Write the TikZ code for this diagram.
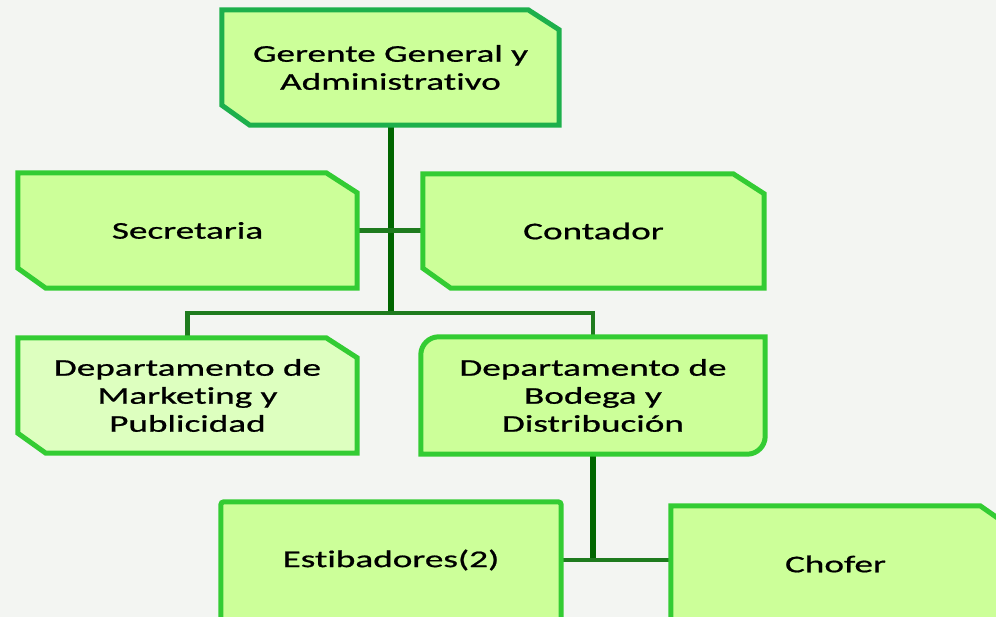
\documentclass[tikz,border=0pt]{standalone}
\usepackage{fontspec}
\setmainfont{Carlito}[FakeStretch=1.55, FakeBold=0.8, Ligatures={NoCommon}]
\usepackage{tikz}

\definecolor{boxfill}{HTML}{CCFF99}
\definecolor{mktfill}{HTML}{DDFFBF}
\definecolor{boxedge}{HTML}{33CC33}
\definecolor{topedge}{HTML}{1DB04C}
\definecolor{trunkgreen}{HTML}{006600}
\definecolor{branchgreen}{HTML}{1E7B1E}
\definecolor{paper}{HTML}{F3F5F2}

\pgfdeclarelayer{bg}
\pgfdeclarelayer{lines}
\pgfdeclarelayer{boxes}
\pgfsetlayers{bg,lines,boxes,main}

\tikzset{
    box/.style={minimum width=339pt, minimum height=115pt, inner sep=0pt,
        align=center, font=\fontsize{24}{28}\selectfont},
    outline/.style={line width=5pt, draw=boxedge, fill=boxfill, line join=miter},
    trunk/.style={line width=6pt, draw=trunkgreen},
    branch/.style={line width=4.5pt, draw=branchgreen},
}

% caja con esquinas cortadas (arriba derecha, abajo izquierda)
\newcommand{\snipbox}[2][]{%
    \begin{pgfonlayer}{boxes}
    \draw[outline, #1] (#2.north west) -- ([xshift=-31pt]#2.north east)
        -- ([yshift=-20pt]#2.north east) -- (#2.south east)
        -- ([xshift=28pt]#2.south west) -- ([yshift=20pt]#2.south west) -- cycle;
    \end{pgfonlayer}}

\begin{document}
\begin{tikzpicture}[x=1pt, y=-1pt]
    \useasboundingbox (0,0) rectangle (996,617);
    \clip (0,0) rectangle (996,617);
    \begin{pgfonlayer}{bg}
        \fill[paper] (0,0) rectangle (996,617);
    \end{pgfonlayer}

    % nodos
    \node[box, minimum width=337pt] (ger) at (390.5,67.5) {Gerente General y\\Administrativo};
    \node[box] (sec) at (187.5,230.5) {Secretaria};
    \node[box, minimum width=341pt, minimum height=114pt] (con) at (593.5,231) {Contador};
    \node[box] (mkt) at (187.5,395.5) {Departamento de\\Marketing y\\Publicidad};
    \node[box, minimum width=344pt, minimum height=117pt] (bod) at (593,395.5) {Departamento de\\Bodega y\\Distribución};
    \node[box, minimum width=340pt, minimum height=116pt] (est) at (391,560) {Estibadores(2)};
    \node[box, minimum width=329pt, minimum height=116pt] (cho) at (835.5,564) {Chofer};

    % contornos
    \snipbox[draw=topedge]{ger}
    \snipbox{sec}
    \snipbox{con}
    \snipbox[fill=mktfill]{mkt}
    \begin{pgfonlayer}{boxes}
        \draw[outline] ([yshift=-18pt]bod.north west) arc[start angle=180, end angle=90, radius=18pt]
            -- (bod.north east) -- ([yshift=18pt]bod.south east)
            arc[start angle=0, end angle=-90, radius=18pt] -- (bod.south west) -- cycle;
        \draw[outline, rounded corners=3pt] (est.north west) rectangle ([yshift=-30pt]est.south east);
        \draw[outline] ([yshift=-30pt]cho.south west) -- (cho.north west) -- ([xshift=-20pt]cho.north east)
            -- ([yshift=-14pt]cho.north east) -- ([yshift=-30pt]cho.south east) -- cycle;
    \end{pgfonlayer}

    % conectores
    \coordinate (bar) at (390,313);
    \begin{pgfonlayer}{lines}
        \draw[trunk] (ger.south) -- (ger.south |- bar);
        \draw[branch] (sec.east) -- (sec.east -| con.west);
        \draw[branch] (mkt.north) |- (bod.north |- bar) -- (bod.north);
        \draw[trunk] (bod.south) -- (bod.south |- est.east);
        \draw[branch] (est.east) -- (est.east -| cho.west);
    \end{pgfonlayer}
\end{tikzpicture}
\end{document}
